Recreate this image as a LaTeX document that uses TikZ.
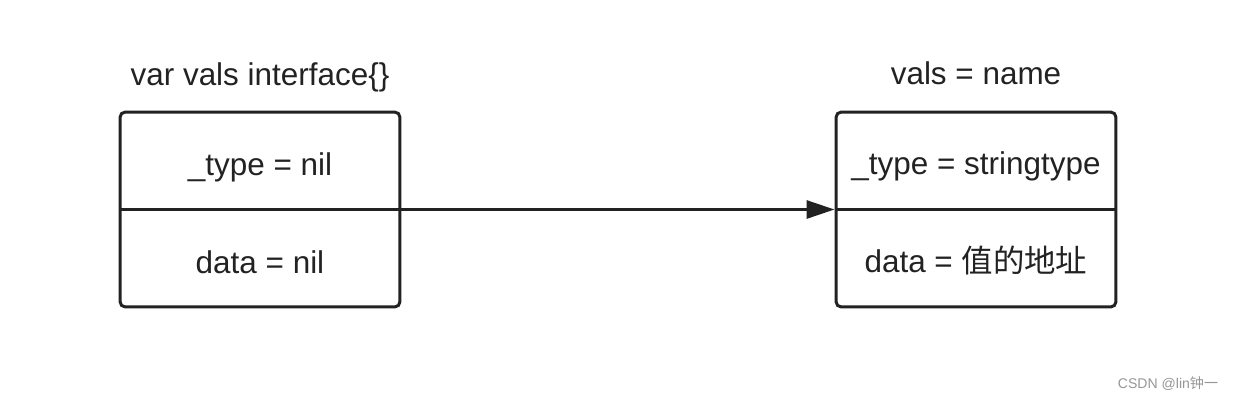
\documentclass[tikz,border=0pt]{standalone}
\usepackage{fontspec}
\setmainfont{Liberation Sans}
\newfontfamily\cjk{Noto Sans CJK SC}
\usetikzlibrary{arrows.meta}
\definecolor{ink}{RGB}{34,34,34}
\definecolor{mark}{RGB}{150,150,150}

\begin{document}
\begin{tikzpicture}[x=0.02cm,y=-0.02cm,
    cell/.style={draw=ink,line width=1.7pt,rounded corners=3pt,
      minimum width=5.6cm,minimum height=3.9cm},
    lab/.style={text=ink,font=\fontsize{17.9}{20}\selectfont,inner sep=0pt,anchor=base}]
    \useasboundingbox (0,0) rectangle (1234,400);
    % the two interface values
    \foreach \nm/\x in {lbox/260,rbox/976}{
      \node[cell] (\nm) at (\x,209.5){};
      \draw[ink,line width=1.7pt] (\nm.west)--(\nm.east);
    }
    \node[lab] (ltitle) at (260,85){var vals interface\{\}};
    \node[lab] (ltype) at (260,175){\_type = nil};
    \node[lab] (ldata) at (260,273){data = nil};
    \node[lab] (rtitle) at (976,84){vals = name};
    \node[lab] (rtype) at (976,174){\_type = stringtype};
    \node[lab] (rdata) at (976,272){data = {\cjk 值的地址}};
    \draw[ink,line width=1.7pt,-{Triangle[length=0.56cm,width=0.36cm]}] (lbox.east)--(rbox.west);
    \node[text=mark,font=\fontsize{8}{10}\selectfont,inner sep=0pt,anchor=base] (wm) at (1168,388){CSDN @lin{\cjk 钟一}};
\end{tikzpicture}
\end{document}
